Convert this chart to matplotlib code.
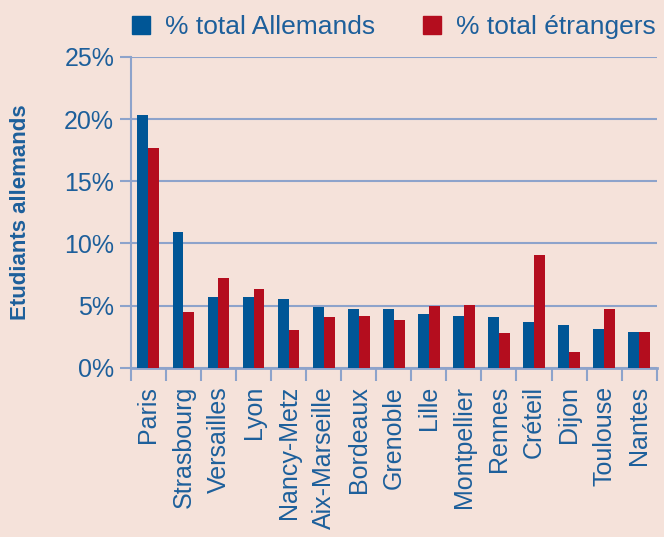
import matplotlib.pyplot as plt
import numpy as np
from matplotlib.patches import Patch

# data
villes = ['Paris', 'Strasbourg', 'Versailles', 'Lyon', 'Nancy-Metz', 'Aix-Marseille',
          'Bordeaux', 'Grenoble', 'Lille', 'Montpellier', 'Rennes', 'Créteil',
          'Dijon', 'Toulouse', 'Nantes']
allemands = [20.3, 10.9, 5.7, 5.7, 5.5, 4.9, 4.75, 4.7, 4.35, 4.2, 4.1, 3.7, 3.45, 3.15, 2.9]
etrangers = [17.7, 4.5, 7.25, 6.3, 3.05, 4.1, 4.2, 3.85, 5.0, 5.05, 2.8, 9.1, 1.3, 4.75, 2.9]

bg = '#f5e2da'
blue = '#005696'
red = '#b40d1e'
grid_col = '#8da3cb'
txt = '#1d5f9b'

plt.rcParams['font.family'] = ['Liberation Sans', 'DejaVu Sans']

fig = plt.figure(figsize=(6.64, 5.37), dpi=100, facecolor=bg)
ax = fig.add_axes([0.197, 0.315, 0.792, 0.579])
ax.set_facecolor(bg)

x = np.arange(len(villes))
w = 0.31
ax.bar(x - w / 2, allemands, w, color=blue, zorder=3)
ax.bar(x + w / 2, etrangers, w, color=red, zorder=3)

ax.set_xlim(-0.5, len(villes) - 0.5)
ax.set_ylim(0, 25)
ax.set_yticks(range(0, 26, 5))
ax.set_yticklabels([f'{v}%' for v in range(0, 26, 5)], fontsize=18, color=txt)
ax.yaxis.grid(True, color=grid_col, linewidth=1.5, zorder=0)
ax.tick_params(axis='y', length=8, width=1.5, color=grid_col, pad=4)

ax.set_xticks(x)
ax.set_xticklabels(villes, rotation=90, fontsize=18, color=txt)
ax.set_xticks(np.arange(-0.5, len(villes)), minor=True)
ax.tick_params(axis='x', which='major', length=0, pad=13)
ax.tick_params(axis='x', which='minor', length=9, width=1.5, color=grid_col)

for s in ['top', 'right']:
    ax.spines[s].set_visible(False)
ax.spines['left'].set_color(grid_col)
ax.spines['left'].set_linewidth(1.5)
ax.spines['bottom'].set_color(grid_col)
ax.spines['bottom'].set_linewidth(2)

ax.set_ylabel('Etudiants allemands', fontsize=16, fontweight='bold', color=txt,
              family=['Liberation Sans Narrow', 'Liberation Sans'], labelpad=24)

handles = [Patch(color=blue), Patch(color=red)]
fig.legend(handles, ['% total Allemands', '% total étrangers'], loc='upper left',
           bbox_to_anchor=(0.163, 1.016), ncol=2, frameon=False, fontsize=19,
           labelcolor=txt, handlelength=0.7, handleheight=0.7, handletextpad=0.55,
           columnspacing=1.8)

fig.savefig('out.png', dpi=100, facecolor=bg)
